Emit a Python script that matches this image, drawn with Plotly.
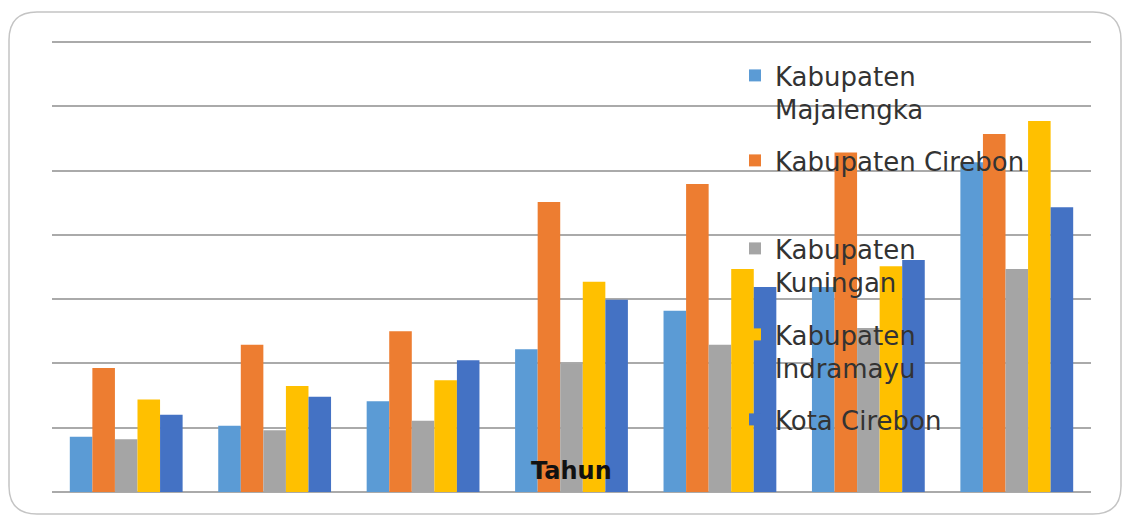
import plotly.graph_objects as go

W, H = 1124, 515

categories = ["1", "2", "3", "4", "5", "6", "7"]
series_names = [
    "Kabupaten<br>Majalengka",
    "Kabupaten Cirebon",
    "Kabupaten<br>Kuningan",
    "Kabupaten<br>Indramayu",
    "Kota Cirebon",
]
majalengka = [0.86, 1.03, 1.41, 2.22, 2.82, 3.19, 5.13]
cirebon = [1.93, 2.29, 2.50, 4.51, 4.79, 5.28, 5.57]
kuningan = [0.82, 0.96, 1.11, 2.00, 2.29, 2.55, 3.47]
indramayu = [1.44, 1.65, 1.74, 3.27, 3.47, 3.51, 5.77]
kota_cirebon = [1.20, 1.48, 2.05, 2.99, 3.19, 3.61, 4.43]
colors = ["#5b9bd5", "#ed7d31", "#a5a5a5", "#ffc000", "#4472c4"]
x_title = "Tahun"

values = [majalengka, cirebon, kuningan, indramayu, kota_cirebon]
legend_ids = ["legend", "legend2", "legend3", "legend4", "legend5"]
legend_top_px = [52, 137, 225, 311, 396]

# plot area in pixels (7 grid units span 42..492)
L, R, T, B = 52, 1091, 39, 492
unit_px = (492 - 42) / 7
y_top = (B - T) / unit_px

fig = go.Figure()
for name, vals, col, lid in zip(series_names, values, colors, legend_ids):
    fig.add_trace(go.Bar(x=categories, y=vals, name=name, marker_color=col,
                         marker_line_width=0, legend=lid, showlegend=True))

legend_font = dict(family="DejaVu Sans", size=26, color="#333333")
legends = {}
for lid, top in zip(legend_ids, legend_top_px):
    legends[lid] = dict(
        x=735 / W, y=1 - top / H, xref="container", yref="container",
        xanchor="left", yanchor="top", bgcolor="rgba(0,0,0,0)",
        borderwidth=0, font=legend_font, valign="top",
        itemclick=False, itemdoubleclick=False, visible=True,
    )

# rounded border (paper coordinates computed from pixels)
def px_x(p):
    return (p - L) / (R - L)

def px_y(p):
    return (B - p) / (B - T)

bx0, by0, bx1, by1, rad = 9, 12, 1121, 514, 28
path = (
    f"M {px_x(bx0 + rad)},{px_y(by0)} L {px_x(bx1 - rad)},{px_y(by0)} "
    f"Q {px_x(bx1)},{px_y(by0)} {px_x(bx1)},{px_y(by0 + rad)} "
    f"L {px_x(bx1)},{px_y(by1 - rad)} "
    f"Q {px_x(bx1)},{px_y(by1)} {px_x(bx1 - rad)},{px_y(by1)} "
    f"L {px_x(bx0 + rad)},{px_y(by1)} "
    f"Q {px_x(bx0)},{px_y(by1)} {px_x(bx0)},{px_y(by1 - rad)} "
    f"L {px_x(bx0)},{px_y(by0 + rad)} "
    f"Q {px_x(bx0)},{px_y(by0)} {px_x(bx0 + rad)},{px_y(by0)} Z"
)

fig.update_layout(
    width=W, height=H,
    margin=dict(l=L, r=W - R, t=T, b=H - B, autoexpand=False),
    paper_bgcolor="white", plot_bgcolor="white",
    barmode="group", bargap=0.24, bargroupgap=0,
    shapes=[dict(type="path", path=path, xref="paper", yref="paper",
                 line=dict(color="#c4c4c4", width=1.5), layer="below")],
    annotations=[dict(text=f"<b>{x_title}</b>", x=0.5, xref="paper",
                      y=px_y(471), yref="paper", showarrow=False,
                      font=dict(family="DejaVu Sans", size=24, color="#111111"),
                      xanchor="center", yanchor="middle")],
    **legends,
)
fig.update_xaxes(showticklabels=False, showgrid=False, ticks="", showline=False)
fig.update_yaxes(range=[0, y_top], dtick=1, tick0=0, showticklabels=False, ticks="",
                 showgrid=True, gridcolor="#aaaaaa", gridwidth=1.5,
                 zeroline=True, zerolinecolor="#aaaaaa", zerolinewidth=1.5,
                 showline=False)

fig.write_html("out.html")
